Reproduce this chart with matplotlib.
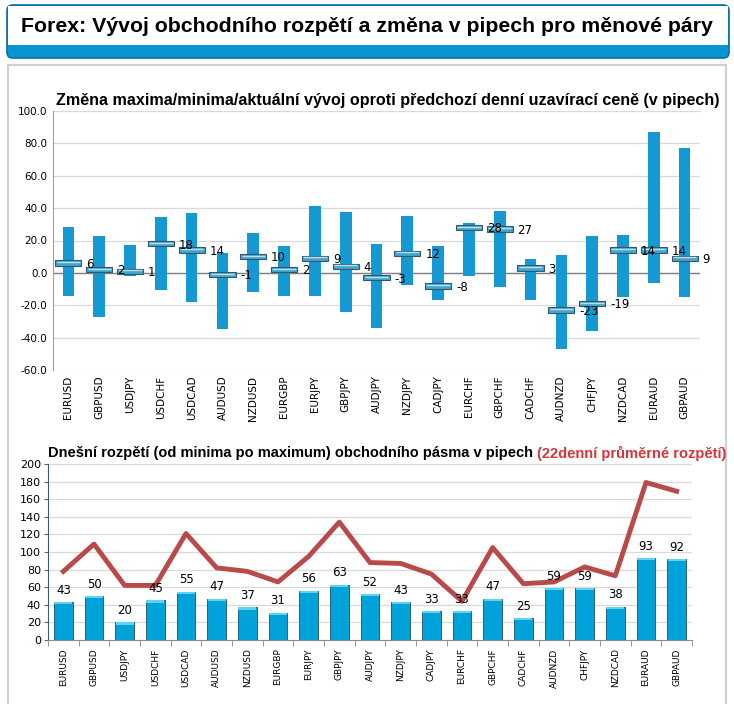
import matplotlib
matplotlib.use("Agg")
import matplotlib.pyplot as plt
from matplotlib.patches import FancyBboxPatch, Rectangle
import numpy as np

pairs = ["EURUSD", "GBPUSD", "USDJPY", "USDCHF", "USDCAD", "AUDUSD", "NZDUSD",
         "EURGBP", "EURJPY", "GBPJPY", "AUDJPY", "NZDJPY", "CADJPY", "EURCHF",
         "GBPCHF", "CADCHF", "AUDNZD", "CHFJPY", "NZDCAD", "EURAUD", "GBPAUD"]

# top chart: change vs previous close (pips)
high = [28.6, 22.6, 17.5, 34.8, 36.8, 12.5, 24.9, 16.8, 41.5, 37.8, 18.0,
        35.4, 16.8, 31.0, 38.5, 8.8, 11.3, 23.0, 23.6, 87.2, 77.3]
low = [-14.4, -27.4, -2.0, -10.3, -18.3, -34.4, -12.0, -14.0, -14.4, -24.3, -33.8,
       -7.2, -16.5, -1.7, -8.5, -16.5, -47.3, -36.2, -14.6, -6.0, -14.6]
current = [6, 2, 1, 18, 14, -1, 10, 2, 9, 4, -3, 12, -8, 28, 27, 3, -23, -19, 14, 14, 9]

# bottom chart: today's range and 22-day average range
today_range = [43, 50, 20, 45, 55, 47, 37, 31, 56, 63, 52, 43, 33, 33, 47, 25, 59, 59, 38, 93, 92]
avg22 = [78, 109, 62, 62, 121, 82, 78, 66, 95, 134, 88, 87, 75, 44, 105, 64, 66, 83, 73, 179, 169]

W, H = 734, 704
fig = plt.figure(figsize=(W / 100, H / 100), dpi=100)
fig.patch.set_facecolor("white")

def fx(px):
    return px / W

def fy(py):
    return 1 - py / H

bold_font = ["Liberation Sans", "DejaVu Sans"]

# header box
fig.patches.append(FancyBboxPatch((fx(7), fy(58)), fx(722), 53 / H, boxstyle="round,pad=0,rounding_size=0.008",
                                  transform=fig.transFigure, facecolor="#0796d2", edgecolor="#0a6fa8",
                                  lw=1.2, zorder=-3))
fig.patches.append(Rectangle((fx(8), fy(45)), fx(720), 39 / H, transform=fig.transFigure,
                             facecolor="white", edgecolor="none", zorder=-2))
fig.text(fx(367), fy(27), "Forex: Vývoj obchodního rozpětí a změna v pipech pro měnové páry",
         ha="center", va="center", fontsize=15.3, fontweight="bold", family=bold_font)

# panel frame
fig.patches.append(Rectangle((fx(8), fy(706)), fx(718), 641 / H, transform=fig.transFigure,
                             facecolor="white", edgecolor="#d0d0d0", lw=1.5, zorder=-3))

x = np.arange(len(pairs))

# ---- top chart
ax1 = fig.add_axes([fx(53), fy(370), fx(700 - 53), (370 - 111) / H])
ax1.set_facecolor("none")
hi = np.array(high)
lo = np.array(low)
cur = np.array(current)
ax1.bar(x, hi - lo, bottom=lo, width=0.38, color="#1499d3", zorder=2)
ax1.bar(x, 3.4, bottom=cur - 1.7, width=0.85, color="#3ea6d1", edgecolor="#3b5566", lw=0.8, zorder=3)
ax1.hlines(cur + 0.6, x - 0.38, x + 0.38, color="#b5e2f3", lw=1.0, zorder=4)
for xi, c in zip(x, current):
    ax1.text(xi + 0.58, c - 0.8, str(c), ha="left", va="center", fontsize=8.5, zorder=5)
ax1.axhline(0, color="#808080", lw=1, zorder=1)
ax1.set_xlim(-0.5, len(pairs) - 0.5)
ax1.set_ylim(-60, 100)
ax1.set_yticks(np.arange(-60, 101, 20))
ax1.set_yticklabels([f"{v:.1f}" for v in np.arange(-60, 101, 20)], fontsize=7.5)
ax1.set_xticks(x)
ax1.set_xticklabels(pairs, rotation=90, fontsize=7.5)
ax1.tick_params(axis="both", length=0, pad=4)
ax1.grid(axis="y", color="#d9d9d9", lw=0.9, zorder=0)
ax1.set_axisbelow(True)
for s in ["top", "right", "bottom"]:
    ax1.spines[s].set_visible(False)
ax1.spines["left"].set_color("#a0a0a0")
fig.text(fx(388), fy(100), "Změna maxima/minima/aktuální vývoj oproti předchozí denní uzavírací ceně (v pipech)",
         ha="center", va="center", fontsize=11.6, fontweight="bold", family=bold_font)

# ---- bottom chart
ax2 = fig.add_axes([fx(48), fy(640), fx(692 - 48), (640 - 464) / H])
ax2.set_facecolor("none")
rng = np.array(today_range)
ax2.bar(x, rng, width=0.6, color="#00a2da", edgecolor="#1d4e6b", lw=0.6, zorder=2)
ax2.bar(x, 2.5, bottom=rng - 2.5, width=0.58, color="#5fd3f2", edgecolor="none", zorder=3)
ax2.plot(x, avg22, color="#b84b49", lw=3.5, zorder=4, solid_joinstyle="round")
for xi, v in zip(x, today_range):
    ax2.text(xi, v + 6, str(v), ha="center", va="bottom", fontsize=8.5, zorder=5)
ax2.set_xlim(-0.5, len(pairs) - 0.5)
ax2.set_ylim(0, 200)
ax2.set_yticks(np.arange(0, 201, 20))
ax2.tick_params(axis="y", labelsize=8, length=3, color="#4a6a8a", pad=2)
ax2.set_xticks(x)
ax2.set_xticklabels(pairs, rotation=90, fontsize=6.5)
ax2.set_xticks(np.arange(-0.5, len(pairs), 1), minor=True)
ax2.tick_params(axis="x", which="major", length=0, pad=6)
ax2.tick_params(axis="x", which="minor", length=4, color="#8a8a8a")
ax2.grid(axis="y", color="#d9d9d9", lw=0.9, zorder=0)
ax2.set_axisbelow(True)
for s in ["top", "right"]:
    ax2.spines[s].set_visible(False)
ax2.spines["left"].set_color("#3c5a7a")
ax2.spines["bottom"].set_color("#8a8a8a")
t1 = fig.text(fx(48), fy(453), "Dnešní rozpětí (od minima po maximum) obchodního pásma v pipech ",
              ha="left", va="center", fontsize=10.5, fontweight="bold", family=bold_font)
fig.add_artist(matplotlib.text.Annotation("(22denní průměrné rozpětí)", xy=(1, 0.5), xycoords=t1,
                                          ha="left", va="center", fontsize=10.5, fontweight="bold",
                                          family=bold_font, color="#d9333a"))

fig.savefig("out.png", dpi=100)
